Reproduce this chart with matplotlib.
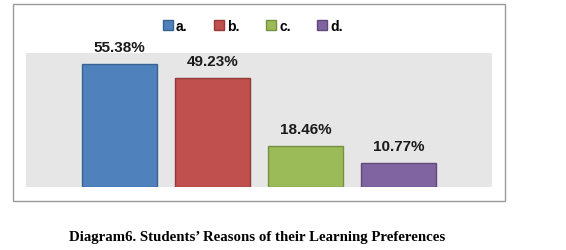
import matplotlib.pyplot as plt
from matplotlib.patches import Rectangle

labels = ['a.', 'b.', 'c.', 'd.']
values = [55.38, 49.23, 18.46, 10.77]
colors = ['#4F81BD', '#C0504D', '#9BBB59', '#8064A2']
edges = ['#3A6291', '#943B39', '#76903F', '#5F4A7A']

fig = plt.figure(figsize=(5.66, 2.51), dpi=100)
W, H = 566, 251

# outer chart frame
fig.patches.append(Rectangle((13 / W, 1 - 202 / H), 492 / W, 197 / H,
                             transform=fig.transFigure, fill=False,
                             edgecolor='#9a9a9a', linewidth=1.0))

ax = fig.add_axes([26 / W, 1 - 188 / H, 466 / W, 134 / H])
ax.set_facecolor('#E6E6E6')

for i, (lab, v) in enumerate(zip(labels, values)):
    ax.bar(i, v, width=0.806, color=colors[i], edgecolor=edges[i],
           linewidth=1.0, label=lab)
    ax.annotate('%.2f%%' % v, (i, v), xytext=(0, 7), textcoords='offset points',
                ha='center', va='bottom', fontsize=11, fontweight='bold',
                family='Liberation Sans', color='#1a1a1a')

ax.set_xlim(-1.005, 4.005)
ax.set_ylim(0, 60.3)
ax.set_xticks([])
ax.set_yticks([])
for s in ax.spines.values():
    s.set_visible(False)

leg = fig.legend(loc='center', bbox_to_anchor=(253 / W, 1 - 27 / H), ncol=4,
                 frameon=False, handlelength=0.7, handleheight=0.7,
                 handletextpad=0.25, columnspacing=1.9,
                 prop={'family': 'Liberation Sans', 'weight': 'bold', 'size': 10})

fig.text(257 / W, 1 - 238 / H,
         'Diagram6. Students\u2019 Reasons of their Learning Preferences',
         ha='center', va='center', fontsize=10.7, fontweight='bold',
         family='Liberation Serif')

fig.savefig('out.png', dpi=100)
